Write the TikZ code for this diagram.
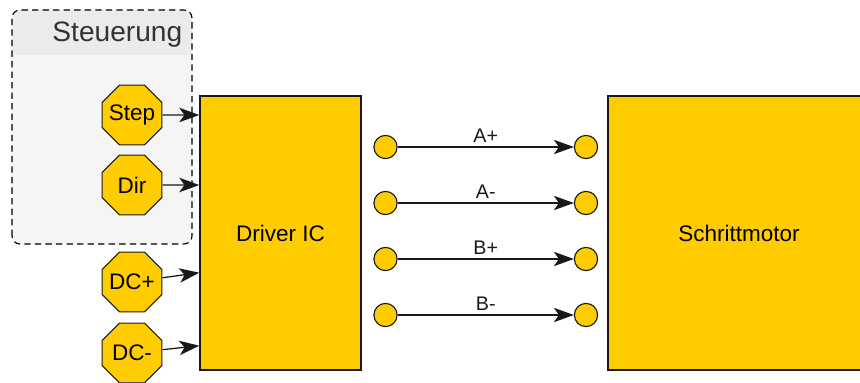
\documentclass[tikz,border=0pt]{standalone}
\usepackage{fontspec}
\setmainfont{Liberation Sans}
\usepackage{xcolor}
\definecolor{mcyellow}{RGB}{255,204,0}
\definecolor{mcline}{RGB}{25,25,25}
\definecolor{mcgroup}{RGB}{245,245,245}
\definecolor{mchead}{RGB}{235,235,235}
\definecolor{mctext}{RGB}{51,51,51}
\usepackage{tikz}
\usetikzlibrary{arrows.meta,positioning,shapes.geometric,calc}
\tikzset{
  pin/.style={draw=mcline, regular polygon, regular polygon sides=8, fill=#1,
              minimum size=1.62cm, inner sep=0pt, line width=0.8pt,
              font=\fontsize{16}{19}\selectfont},
  chip/.style={draw=mcline, fill=#1, line width=1pt, minimum height=6.85cm,
               font=\fontsize{16}{19}\selectfont},
  port/.style={draw=mcline, circle, fill=#1, minimum size=0.58cm, inner sep=0pt,
               line width=0.8pt},
  wire/.style={-{Stealth[length=0.5cm, width=0.36cm, inset=0.13cm]}, line width=0.9pt, mcline},
  lbl/.style={font=\fontsize{14}{17}\selectfont, text=mcline, inner sep=1pt},
}
\newcommand{\pintext}[1]{\makebox[0pt]{#1}}

\begin{document}
\begin{tikzpicture}
\useasboundingbox (0,0) rectangle (21.5,9.55);

% Steuerung group
\draw[draw=none, fill=mcgroup, rounded corners=0.2cm] (0.3,3.45) rectangle (4.8,9.3);
\fill[mchead, rounded corners=0.2cm] (0.3,8.175) |- (4.8,9.3) |- cycle;
\fill[mchead] (0.3,8.175) rectangle (4.8,8.5);
\draw[black, line width=0.8pt, dash pattern=on 4.5pt off 3pt, rounded corners=0.2cm]
  (0.3,3.45) rectangle (4.8,9.3);
\node[anchor=east, text=mctext, font=\fontsize{20}{24}\selectfont] (title) at (4.68,8.675) {Steuerung};

% Pins
\node[pin=mcyellow] (step) at (3.3,6.675) {\pintext{Step}};
\node[pin=mcyellow] (dir) at (3.3,4.925) {\pintext{Dir}};
\node[pin=mcyellow] (dcp) at (3.3,2.5) {\pintext{DC+}};
\node[pin=mcyellow] (dcm) at (3.3,0.725) {\pintext{DC-}};

% Blocks
\node[chip=mcyellow, minimum width=4.025cm] (driver) at (7.0125,3.725) {Driver IC};
\node[chip=mcyellow, minimum width=6.55cm] (motor) at (18.475,3.725) {Schrittmotor};

\coordinate (inplus) at ($(driver.south west)+(0,2.45)$);
\coordinate (inminus) at ($(driver.south west)+(0,0.625)$);

\draw[wire] (step) -- (step -| driver.west);
\draw[wire] (dir) -- (dir -| driver.west);
\draw[wire] (dcp) -- (inplus);
\draw[wire] (dcm) -- (inminus);

% Phases
\foreach \ph/\y [count=\i] in {A+/5.875, A-/4.475, B+/3.075, B-/1.675} {
  \node[port=mcyellow] (out\i) at (9.6375,\y) {};
  \node[port=mcyellow] (in\i) at (14.65,\y) {};
  \draw[wire] (out\i) -- node[lbl, above=2pt] {\ph} (in\i);
}

\end{tikzpicture}
\end{document}
